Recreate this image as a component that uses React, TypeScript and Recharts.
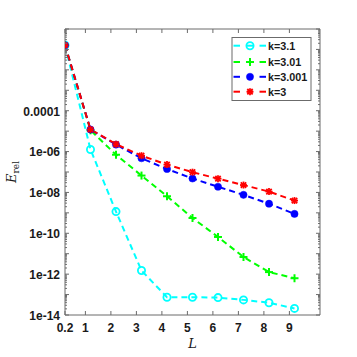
import React from 'react';
import { LineChart, Line, XAxis, YAxis } from 'recharts';

const xValues = [0.2, 1.2, 2.2, 3.2, 4.2, 5.2, 6.2, 7.2, 8.2, 9.2];
const seriesK31 = [0.16, 1.26e-6, 1.15e-9, 1.5e-12, 7.4e-14, 7.4e-14, 7.1e-14, 5.5e-14, 4e-14, 2.1e-14];
const seriesK301 = [0.16, 1.1e-5, 7e-7, 6.7e-8, 6.5e-9, 5.6e-10, 6.6e-11, 6.9e-12, 1.26e-12, 6.3e-13];
const seriesK3001 = [0.16, 1.2e-5, 2.2e-6, 4.7e-7, 1.4e-7, 4.8e-8, 1.9e-8, 7.6e-9, 2.8e-9, 8.9e-10];
const seriesK3 = [0.16, 1.2e-5, 2.3e-6, 6.3e-7, 2.3e-7, 9.8e-8, 4.7e-8, 2.3e-8, 1.1e-8, 4e-9];

const seriesNames = ['k=3.1', 'k=3.01', 'k=3.001', 'k=3'];
const seriesKeys = ['k31', 'k301', 'k3001', 'k3'];
const seriesColors = ['#00ffff', '#00ff00', '#0000ff', '#ff0000'];
const seriesMarkers = ['circle', 'plus', 'dot', 'star'];

const xTicks = [0.2, 1, 2, 3, 4, 5, 6, 7, 8, 9];
const xTickLabels = ['0.2', '1', '2', '3', '4', '5', '6', '7', '8', '9'];
const yMajorTicks = [1e-14, 1e-12, 1e-10, 1e-8, 1e-6, 1e-4];
const yTickLabels = ['1e-14', '1e-12', '1e-10', '1e-08', '1e-06', '0.0001'];
const yDecades = [-14, -13, -12, -11, -10, -9, -8, -7, -6, -5, -4, -3, -2, -1];
const yMantissas = [1, 2, 3, 4, 5, 6, 7, 8, 9];

const yAllTicks: number[] = [];
yDecades.forEach((e) => yMantissas.forEach((m) => yAllTicks.push(m * Math.pow(10, e))));
yAllTicks.push(1);

const data = xValues.map((x, i) => ({
  x,
  k31: seriesK31[i],
  k301: seriesK301[i],
  k3001: seriesK3001[i],
  k3: seriesK3[i],
}));

const AXIS = '#6b6b6b';
const TEXT = '#1a1a1a';
const FONT = '"Liberation Sans", Arial, sans-serif';

function isDecade(v: number) {
  const l = Math.log10(v);
  return Math.abs(l - Math.round(l)) < 1e-6;
}
function majorLabel(v: number): string | null {
  for (let i = 0; i < yMajorTicks.length; i++) {
    if (Math.abs(Math.log10(v) - Math.log10(yMajorTicks[i])) < 1e-6) return yTickLabels[i];
  }
  return null;
}

function Marker({ type, cx, cy, color }: { type: string; cx: number; cy: number; color: string }) {
  if (type === 'circle') return <circle cx={cx} cy={cy} r={3.6} fill="none" stroke={color} strokeWidth={1.8} />;
  if (type === 'dot') return <circle cx={cx} cy={cy} r={3.6} fill={color} stroke={color} strokeWidth={0.5} />;
  if (type === 'plus')
    return (
      <g stroke={color} strokeWidth={2}>
        <line x1={cx - 4} x2={cx + 4} y1={cy} y2={cy} />
        <line x1={cx} x2={cx} y1={cy - 4} y2={cy + 4} />
      </g>
    );
  return (
    <g stroke={color} strokeWidth={1.8}>
      <line x1={cx - 3.5} x2={cx + 3.5} y1={cy} y2={cy} />
      <line x1={cx} x2={cx} y1={cy - 3.5} y2={cy + 3.5} />
      <line x1={cx - 2.7} x2={cx + 2.7} y1={cy - 2.7} y2={cy + 2.7} />
      <line x1={cx - 2.7} x2={cx + 2.7} y1={cy + 2.7} y2={cy - 2.7} />
    </g>
  );
}

const LeftTick = (props: any) => {
  const { x, y, payload } = props;
  const v = payload.value;
  const len = isDecade(v) ? 4 : 2;
  const lab = majorLabel(v);
  return (
    <g>
      <line x1={x} x2={x + len} y1={y} y2={y} stroke={AXIS} strokeWidth={1} />
      {lab && (
        <text x={x - 5} y={y + 4.8} textAnchor="end" fontFamily={FONT} fontWeight="bold" fontSize={12} fill={TEXT}>
          {lab}
        </text>
      )}
    </g>
  );
};

const RightTick = (props: any) => {
  const { x, y, payload } = props;
  const len = isDecade(payload.value) ? 4 : 2;
  return <line x1={x} x2={x - len} y1={y} y2={y} stroke={AXIS} strokeWidth={1} />;
};

const BottomTick = (props: any) => {
  const { x, y, payload, index } = props;
  return (
    <g>
      <line x1={x} x2={x} y1={y} y2={y - 4} stroke={AXIS} strokeWidth={1} />
      <text x={x} y={y + 17} textAnchor="middle" fontFamily={FONT} fontWeight="bold" fontSize={12} fill={TEXT}>
        {xTickLabels[index] ?? String(payload.value)}
      </text>
    </g>
  );
};

const TopTick = (props: any) => {
  const { x, y } = props;
  return <line x1={x} x2={x} y1={y} y2={y + 4} stroke={AXIS} strokeWidth={1} />;
};

const YLabel = () => (
  <text
    transform="translate(16, 172) rotate(-90)"
    textAnchor="middle"
    fontFamily='"DejaVu Serif", "Liberation Serif", serif'
    fontStyle="italic"
    fontSize={13}
    fill={TEXT}
  >
    E
    <tspan fontSize={9} fontStyle="normal" dy={3}>
      rel
    </tspan>
  </text>
);

const XLabel = () => (
  <text
    x={192.5}
    y={348}
    textAnchor="middle"
    fontFamily='"DejaVu Serif", "Liberation Serif", serif'
    fontStyle="italic"
    fontSize={13}
    fill={TEXT}
  >
    L
  </text>
);

function LegendBox() {
  const left = 232;
  const top = 37.5;
  const w = 79;
  const h = 63;
  const rowCenters = [45.7, 62, 76.8, 91.7];
  return (
    <g>
      <rect x={left} y={top} width={w} height={h} fill="#fff" stroke={AXIS} strokeWidth={1} />
      {seriesNames.map((name, i) => {
        const cy = rowCenters[i];
        const c = seriesColors[i];
        return (
          <g key={name}>
            <line x1={233.5} x2={240} y1={cy} y2={cy} stroke={c} strokeWidth={2} />
            <line x1={247} x2={253} y1={cy} y2={cy} stroke={c} strokeWidth={2} />
            <line x1={259.5} x2={266} y1={cy} y2={cy} stroke={c} strokeWidth={2} />
            <Marker type={seriesMarkers[i]} cx={250} cy={cy} color={c} />
            <text x={268} y={cy + 4} fontFamily={FONT} fontWeight="bold" fontSize={10.8} fill={TEXT}>
              {name}
            </text>
          </g>
        );
      })}
    </g>
  );
}

export default function App() {
  return (
    <div style={{ position: 'absolute', left: 0, top: 0, width: 357, height: 357, background: '#fff' }}>
      <LineChart width={357} height={357} data={data} margin={{ top: 28, right: 36, bottom: 0, left: 0 }}>
        <XAxis
          xAxisId="bottom"
          dataKey="x"
          type="number"
          domain={[0.2, 10.2]}
          ticks={xTicks}
          interval={0}
          height={42}
          tickSize={0}
          tickMargin={0}
          tickLine={false}
          axisLine={{ stroke: AXIS }}
          tick={BottomTick}
          allowDataOverflow
        />
        <XAxis
          xAxisId="top"
          dataKey="x"
          orientation="top"
          type="number"
          domain={[0.2, 10.2]}
          ticks={xTicks}
          interval={0}
          height={1}
          tickSize={0}
          tickMargin={0}
          tickLine={false}
          axisLine={{ stroke: AXIS }}
          tick={TopTick}
          allowDataOverflow
        />
        <YAxis
          yAxisId="left"
          type="number"
          scale="log"
          domain={[1e-14, 1]}
          ticks={yAllTicks}
          interval={0}
          width={65}
          tickSize={0}
          tickMargin={0}
          tickLine={false}
          axisLine={{ stroke: AXIS }}
          tick={LeftTick}
          allowDataOverflow
        />
        <YAxis
          yAxisId="right"
          orientation="right"
          type="number"
          scale="log"
          domain={[1e-14, 1]}
          ticks={yAllTicks}
          interval={0}
          width={1}
          tickSize={0}
          tickMargin={0}
          tickLine={false}
          axisLine={{ stroke: AXIS }}
          tick={RightTick}
          allowDataOverflow
        />
        {seriesKeys.map((k, i) => (
          <Line
            key={k}
            xAxisId="bottom"
            yAxisId="left"
            type="linear"
            dataKey={k}
            name={seriesNames[i]}
            stroke={seriesColors[i]}
            strokeWidth={2}
            strokeDasharray="6 4"
            isAnimationActive={false}
            activeDot={false}
            dot={(p: any) => (
              <Marker key={`${k}-${p.index}`} type={seriesMarkers[i]} cx={p.cx} cy={p.cy} color={seriesColors[i]} />
            )}
          />
        ))}
      </LineChart>
      <svg
        width={357}
        height={357}
        style={{ position: 'absolute', left: 0, top: 0, pointerEvents: 'none' }}
      >
        <YLabel />
        <XLabel />
        <LegendBox />
      </svg>
    </div>
  );
}
